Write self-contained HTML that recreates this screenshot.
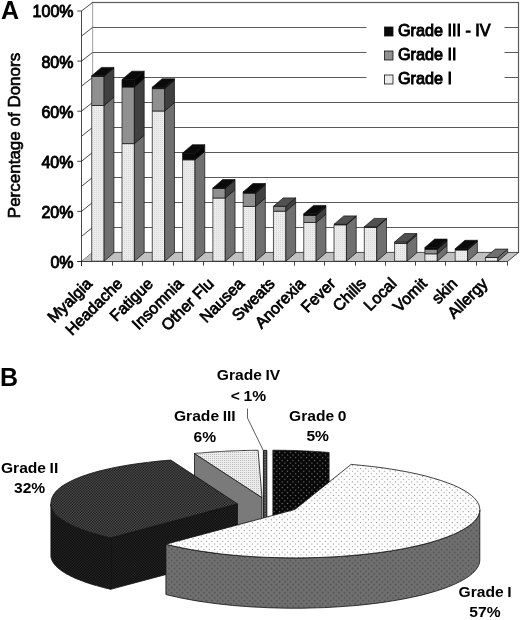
<!DOCTYPE html>
<html><head><meta charset="utf-8"><title>Figure</title>
<style>html,body{margin:0;padding:0;background:#fff}body{width:520px;height:620px;overflow:hidden}svg text{font-family:"Liberation Sans",sans-serif}</style></head>
<body>
<svg width="520" height="620" viewBox="0 0 520 620" style="display:block" >
<defs>
<pattern id="pG1" width="2" height="2" patternUnits="userSpaceOnUse"><rect width="2" height="2" fill="#ececec"/><rect width="1" height="1" fill="#d8d8d8"/></pattern>
<pattern id="pI" width="5.4" height="5.4" patternUnits="userSpaceOnUse"><rect width="5.4" height="5.4" fill="#ffffff"/><rect x="0.8" y="0.8" width="1.1" height="1.1" fill="#8c8c8c"/><rect x="3.5" y="3.5" width="1.1" height="1.1" fill="#8c8c8c"/></pattern>
<pattern id="pIs" width="5.4" height="5.4" patternUnits="userSpaceOnUse"><rect width="5.4" height="5.4" fill="#707070"/><rect x="0.7" y="0.7" width="1.5" height="1.5" fill="#4c4c4c"/><rect x="3.4" y="3.4" width="1.5" height="1.5" fill="#4c4c4c"/></pattern>
<pattern id="pII" width="2.7" height="2.7" patternUnits="userSpaceOnUse"><rect width="2.7" height="2.7" fill="#5e5e5e"/><rect width="1.35" height="1.35" fill="#0c0c0c"/><rect x="1.35" y="1.35" width="1.35" height="1.35" fill="#0c0c0c"/></pattern>
<pattern id="pIIs" width="2.7" height="2.7" patternUnits="userSpaceOnUse"><rect width="2.7" height="2.7" fill="#2a2a2a"/><rect width="1.35" height="1.35" fill="#060606"/><rect x="1.35" y="1.35" width="1.35" height="1.35" fill="#060606"/></pattern>
<pattern id="pIII" width="2" height="2" patternUnits="userSpaceOnUse"><rect width="2" height="2" fill="#ededed"/><rect width="1" height="1" fill="#bdbdbd"/></pattern>
<pattern id="pIV" width="2.7" height="2.7" patternUnits="userSpaceOnUse"><rect width="2.7" height="2.7" fill="#3a3a3a"/><rect width="1.2" height="1.2" fill="#9a9a9a"/></pattern>
<pattern id="p0" width="5.4" height="5.4" patternUnits="userSpaceOnUse"><rect width="5.4" height="5.4" fill="#060606"/><rect x="0.8" y="0.8" width="1.2" height="1.2" fill="#7a7a7a"/><rect x="3.5" y="3.5" width="1.2" height="1.2" fill="#7a7a7a"/></pattern>
</defs>
<rect width="520" height="620" fill="#fff"/>
<rect x="92.5" y="2.5" width="426.0" height="250.0" fill="#fff" stroke="#5a5a5a" stroke-width="1.2"/>
<line x1="92.5" y1="227.5" x2="518.5" y2="227.5" stroke="#5a5a5a" stroke-width="1.2"/>
<line x1="92.5" y1="202.5" x2="518.5" y2="202.5" stroke="#5a5a5a" stroke-width="1.2"/>
<line x1="92.5" y1="177.5" x2="518.5" y2="177.5" stroke="#5a5a5a" stroke-width="1.2"/>
<line x1="92.5" y1="152.5" x2="518.5" y2="152.5" stroke="#5a5a5a" stroke-width="1.2"/>
<line x1="92.5" y1="127.5" x2="518.5" y2="127.5" stroke="#5a5a5a" stroke-width="1.2"/>
<line x1="92.5" y1="102.5" x2="518.5" y2="102.5" stroke="#5a5a5a" stroke-width="1.2"/>
<line x1="92.5" y1="77.5" x2="518.5" y2="77.5" stroke="#5a5a5a" stroke-width="1.2"/>
<line x1="92.5" y1="52.5" x2="518.5" y2="52.5" stroke="#5a5a5a" stroke-width="1.2"/>
<line x1="92.5" y1="27.5" x2="518.5" y2="27.5" stroke="#5a5a5a" stroke-width="1.2"/>
<rect x="366.5" y="14" width="138" height="80" fill="#fff"/>
<polygon points="81.5,11.0 92.5,2.5 92.5,252.5 81.5,261.5" fill="#fff" stroke="none"/>
<line x1="81.5" y1="11.0" x2="81.5" y2="266.0" stroke="#1a1a1a" stroke-width="0.8"/>
<line x1="81.5" y1="261.5" x2="92.5" y2="252.5" stroke="#1a1a1a" stroke-width="0.8"/>
<line x1="81.5" y1="236.45" x2="92.5" y2="227.5" stroke="#1a1a1a" stroke-width="0.8"/>
<line x1="81.5" y1="211.4" x2="92.5" y2="202.5" stroke="#1a1a1a" stroke-width="0.8"/>
<line x1="81.5" y1="186.35" x2="92.5" y2="177.5" stroke="#1a1a1a" stroke-width="0.8"/>
<line x1="81.5" y1="161.3" x2="92.5" y2="152.5" stroke="#1a1a1a" stroke-width="0.8"/>
<line x1="81.5" y1="136.25" x2="92.5" y2="127.5" stroke="#1a1a1a" stroke-width="0.8"/>
<line x1="81.5" y1="111.19999999999999" x2="92.5" y2="102.5" stroke="#1a1a1a" stroke-width="0.8"/>
<line x1="81.5" y1="86.15" x2="92.5" y2="77.5" stroke="#1a1a1a" stroke-width="0.8"/>
<line x1="81.5" y1="61.099999999999994" x2="92.5" y2="52.5" stroke="#1a1a1a" stroke-width="0.8"/>
<line x1="81.5" y1="36.04999999999998" x2="92.5" y2="27.5" stroke="#1a1a1a" stroke-width="0.8"/>
<line x1="81.5" y1="11.0" x2="92.5" y2="2.5" stroke="#1a1a1a" stroke-width="0.8"/>
<polygon points="81.5,261.5 507.5,261.5 518.5,252.5 92.5,252.5" fill="#c0c0c0" stroke="none"/>
<line x1="92.5" y1="252.5" x2="518.5" y2="252.5" stroke="#5a5a5a" stroke-width="1.2"/>
<line x1="507.5" y1="261.5" x2="518.5" y2="252.5" stroke="#1a1a1a" stroke-width="0.8"/>
<line x1="77.3" y1="261.5" x2="507.5" y2="261.5" stroke="#1a1a1a" stroke-width="0.8"/>
<line x1="77.3" y1="261.5" x2="81.5" y2="261.5" stroke="#1a1a1a" stroke-width="0.8"/>
<text x="73.5" y="267.9" font-size="16" text-anchor="end" fill="#000" stroke="#000" stroke-width="0.9">0%</text>
<line x1="77.3" y1="211.4" x2="81.5" y2="211.4" stroke="#1a1a1a" stroke-width="0.8"/>
<text x="73.5" y="217.8" font-size="16" text-anchor="end" fill="#000" stroke="#000" stroke-width="0.9">20%</text>
<line x1="77.3" y1="161.3" x2="81.5" y2="161.3" stroke="#1a1a1a" stroke-width="0.8"/>
<text x="73.5" y="167.7" font-size="16" text-anchor="end" fill="#000" stroke="#000" stroke-width="0.9">40%</text>
<line x1="77.3" y1="111.19999999999999" x2="81.5" y2="111.19999999999999" stroke="#1a1a1a" stroke-width="0.8"/>
<text x="73.5" y="117.6" font-size="16" text-anchor="end" fill="#000" stroke="#000" stroke-width="0.9">60%</text>
<line x1="77.3" y1="61.099999999999994" x2="81.5" y2="61.099999999999994" stroke="#1a1a1a" stroke-width="0.8"/>
<text x="73.5" y="67.5" font-size="16" text-anchor="end" fill="#000" stroke="#000" stroke-width="0.9">80%</text>
<line x1="77.3" y1="11.0" x2="81.5" y2="11.0" stroke="#1a1a1a" stroke-width="0.8"/>
<text x="73.5" y="17.4" font-size="16" text-anchor="end" fill="#000" stroke="#000" stroke-width="0.9">100%</text>
<line x1="81.5" y1="261.5" x2="81.5" y2="265.7" stroke="#1a1a1a" stroke-width="0.8"/>
<line x1="112.5" y1="261.5" x2="112.5" y2="265.7" stroke="#1a1a1a" stroke-width="0.8"/>
<line x1="142.5" y1="261.5" x2="142.5" y2="265.7" stroke="#1a1a1a" stroke-width="0.8"/>
<line x1="173.5" y1="261.5" x2="173.5" y2="265.7" stroke="#1a1a1a" stroke-width="0.8"/>
<line x1="203.5" y1="261.5" x2="203.5" y2="265.7" stroke="#1a1a1a" stroke-width="0.8"/>
<line x1="233.5" y1="261.5" x2="233.5" y2="265.7" stroke="#1a1a1a" stroke-width="0.8"/>
<line x1="263.5" y1="261.5" x2="263.5" y2="265.7" stroke="#1a1a1a" stroke-width="0.8"/>
<line x1="294.5" y1="261.5" x2="294.5" y2="265.7" stroke="#1a1a1a" stroke-width="0.8"/>
<line x1="324.5" y1="261.5" x2="324.5" y2="265.7" stroke="#1a1a1a" stroke-width="0.8"/>
<line x1="355.5" y1="261.5" x2="355.5" y2="265.7" stroke="#1a1a1a" stroke-width="0.8"/>
<line x1="385.5" y1="261.5" x2="385.5" y2="265.7" stroke="#1a1a1a" stroke-width="0.8"/>
<line x1="415.5" y1="261.5" x2="415.5" y2="265.7" stroke="#1a1a1a" stroke-width="0.8"/>
<line x1="445.5" y1="261.5" x2="445.5" y2="265.7" stroke="#1a1a1a" stroke-width="0.8"/>
<line x1="476.5" y1="261.5" x2="476.5" y2="265.7" stroke="#1a1a1a" stroke-width="0.8"/>
<line x1="507.5" y1="261.5" x2="507.5" y2="265.7" stroke="#1a1a1a" stroke-width="0.8"/>
<polygon points="91.7,261.2 104.10000000000001,261.2 104.10000000000001,105.5 91.7,105.5" fill="url(#pG1)" stroke="#111" stroke-width="0.7"/>
<polygon points="104.10000000000001,261.2 113.9,252.79999999999998 113.9,97.1 104.10000000000001,105.5" fill="#707070" stroke="#111" stroke-width="0.7"/>
<polygon points="91.7,105.5 104.10000000000001,105.5 104.10000000000001,76.3 91.7,76.3" fill="#909090" stroke="#111" stroke-width="0.7"/>
<polygon points="104.10000000000001,105.5 113.9,97.1 113.9,67.89999999999999 104.10000000000001,76.3" fill="#404040" stroke="#111" stroke-width="0.7"/>
<polygon points="91.7,76.3 104.10000000000001,76.3 104.10000000000001,75.8 91.7,75.8" fill="#0a0a0a" stroke="#111" stroke-width="0.7"/>
<polygon points="104.10000000000001,76.3 113.9,67.89999999999999 113.9,67.39999999999999 104.10000000000001,75.8" fill="#050505" stroke="#111" stroke-width="0.7"/>
<polygon points="91.7,75.8 104.10000000000001,75.8 113.9,67.39999999999999 101.5,67.39999999999999" fill="#0a0a0a" stroke="#111" stroke-width="0.7"/>
<text transform="translate(93.1,284.6) rotate(-45)" font-size="16" text-anchor="end" fill="#000" stroke="#000" stroke-width="0.75">Myalgia</text>
<polygon points="121.99000000000001,261.2 134.39000000000001,261.2 134.39000000000001,143.6 121.99000000000001,143.6" fill="url(#pG1)" stroke="#111" stroke-width="0.7"/>
<polygon points="134.39000000000001,261.2 144.19000000000003,252.79999999999998 144.19000000000003,135.2 134.39000000000001,143.6" fill="#707070" stroke="#111" stroke-width="0.7"/>
<polygon points="121.99000000000001,143.6 134.39000000000001,143.6 134.39000000000001,87.0 121.99000000000001,87.0" fill="#909090" stroke="#111" stroke-width="0.7"/>
<polygon points="134.39000000000001,143.6 144.19000000000003,135.2 144.19000000000003,78.6 134.39000000000001,87.0" fill="#404040" stroke="#111" stroke-width="0.7"/>
<polygon points="121.99000000000001,87.0 134.39000000000001,87.0 134.39000000000001,79.6 121.99000000000001,79.6" fill="#0a0a0a" stroke="#111" stroke-width="0.7"/>
<polygon points="134.39000000000001,87.0 144.19000000000003,78.6 144.19000000000003,71.19999999999999 134.39000000000001,79.6" fill="#050505" stroke="#111" stroke-width="0.7"/>
<polygon points="121.99000000000001,79.6 134.39000000000001,79.6 144.19000000000003,71.19999999999999 131.79000000000002,71.19999999999999" fill="#0a0a0a" stroke="#111" stroke-width="0.7"/>
<text transform="translate(123.5,284.6) rotate(-45)" font-size="16" text-anchor="end" fill="#000" stroke="#000" stroke-width="0.75">Headache</text>
<polygon points="152.28,261.2 164.68,261.2 164.68,111.0 152.28,111.0" fill="url(#pG1)" stroke="#111" stroke-width="0.7"/>
<polygon points="164.68,261.2 174.48000000000002,252.79999999999998 174.48000000000002,102.6 164.68,111.0" fill="#707070" stroke="#111" stroke-width="0.7"/>
<polygon points="152.28,111.0 164.68,111.0 164.68,88.6 152.28,88.6" fill="#909090" stroke="#111" stroke-width="0.7"/>
<polygon points="164.68,111.0 174.48000000000002,102.6 174.48000000000002,80.19999999999999 164.68,88.6" fill="#404040" stroke="#111" stroke-width="0.7"/>
<polygon points="152.28,88.6 164.68,88.6 164.68,87.2 152.28,87.2" fill="#0a0a0a" stroke="#111" stroke-width="0.7"/>
<polygon points="164.68,88.6 174.48000000000002,80.19999999999999 174.48000000000002,78.8 164.68,87.2" fill="#050505" stroke="#111" stroke-width="0.7"/>
<polygon points="152.28,87.2 164.68,87.2 174.48000000000002,78.8 162.08,78.8" fill="#0a0a0a" stroke="#111" stroke-width="0.7"/>
<text transform="translate(154.0,284.6) rotate(-45)" font-size="16" text-anchor="end" fill="#000" stroke="#000" stroke-width="0.75">Fatigue</text>
<polygon points="182.57,261.2 194.97,261.2 194.97,159.8 182.57,159.8" fill="url(#pG1)" stroke="#111" stroke-width="0.7"/>
<polygon points="194.97,261.2 204.77,252.79999999999998 204.77,151.4 194.97,159.8" fill="#707070" stroke="#111" stroke-width="0.7"/>
<polygon points="182.57,159.8 194.97,159.8 194.97,153.1 182.57,153.1" fill="#0a0a0a" stroke="#111" stroke-width="0.7"/>
<polygon points="194.97,159.8 204.77,151.4 204.77,144.7 194.97,153.1" fill="#050505" stroke="#111" stroke-width="0.7"/>
<polygon points="182.57,153.1 194.97,153.1 204.77,144.7 192.37,144.7" fill="#0a0a0a" stroke="#111" stroke-width="0.7"/>
<text transform="translate(184.4,284.6) rotate(-45)" font-size="16" text-anchor="end" fill="#000" stroke="#000" stroke-width="0.75">Insomnia</text>
<polygon points="212.86,261.2 225.26000000000002,261.2 225.26000000000002,198.0 212.86,198.0" fill="url(#pG1)" stroke="#111" stroke-width="0.7"/>
<polygon points="225.26000000000002,261.2 235.06000000000003,252.79999999999998 235.06000000000003,189.6 225.26000000000002,198.0" fill="#707070" stroke="#111" stroke-width="0.7"/>
<polygon points="212.86,198.0 225.26000000000002,198.0 225.26000000000002,188.3 212.86,188.3" fill="#909090" stroke="#111" stroke-width="0.7"/>
<polygon points="225.26000000000002,198.0 235.06000000000003,189.6 235.06000000000003,179.9 225.26000000000002,188.3" fill="#404040" stroke="#111" stroke-width="0.7"/>
<polygon points="212.86,188.3 225.26000000000002,188.3 225.26000000000002,188.0 212.86,188.0" fill="#0a0a0a" stroke="#111" stroke-width="0.7"/>
<polygon points="225.26000000000002,188.3 235.06000000000003,179.9 235.06000000000003,179.6 225.26000000000002,188.0" fill="#050505" stroke="#111" stroke-width="0.7"/>
<polygon points="212.86,188.0 225.26000000000002,188.0 235.06000000000003,179.6 222.66000000000003,179.6" fill="#0a0a0a" stroke="#111" stroke-width="0.7"/>
<text transform="translate(214.8,284.6) rotate(-45)" font-size="16" text-anchor="end" fill="#000" stroke="#000" stroke-width="0.75">Other Flu</text>
<polygon points="243.14999999999998,261.2 255.54999999999998,261.2 255.54999999999998,206.4 243.14999999999998,206.4" fill="url(#pG1)" stroke="#111" stroke-width="0.7"/>
<polygon points="255.54999999999998,261.2 265.34999999999997,252.79999999999998 265.34999999999997,198.0 255.54999999999998,206.4" fill="#707070" stroke="#111" stroke-width="0.7"/>
<polygon points="243.14999999999998,206.4 255.54999999999998,206.4 255.54999999999998,193.2 243.14999999999998,193.2" fill="#909090" stroke="#111" stroke-width="0.7"/>
<polygon points="255.54999999999998,206.4 265.34999999999997,198.0 265.34999999999997,184.79999999999998 255.54999999999998,193.2" fill="#404040" stroke="#111" stroke-width="0.7"/>
<polygon points="243.14999999999998,193.2 255.54999999999998,193.2 255.54999999999998,191.9 243.14999999999998,191.9" fill="#0a0a0a" stroke="#111" stroke-width="0.7"/>
<polygon points="255.54999999999998,193.2 265.34999999999997,184.79999999999998 265.34999999999997,183.5 255.54999999999998,191.9" fill="#050505" stroke="#111" stroke-width="0.7"/>
<polygon points="243.14999999999998,191.9 255.54999999999998,191.9 265.34999999999997,183.5 252.95,183.5" fill="#0a0a0a" stroke="#111" stroke-width="0.7"/>
<text transform="translate(245.3,284.6) rotate(-45)" font-size="16" text-anchor="end" fill="#000" stroke="#000" stroke-width="0.75">Nausea</text>
<polygon points="273.44,261.2 285.84,261.2 285.84,211.2 273.44,211.2" fill="url(#pG1)" stroke="#111" stroke-width="0.7"/>
<polygon points="285.84,261.2 295.64,252.79999999999998 295.64,202.79999999999998 285.84,211.2" fill="#707070" stroke="#111" stroke-width="0.7"/>
<polygon points="273.44,211.2 285.84,211.2 285.84,206.3 273.44,206.3" fill="#909090" stroke="#111" stroke-width="0.7"/>
<polygon points="285.84,211.2 295.64,202.79999999999998 295.64,197.9 285.84,206.3" fill="#404040" stroke="#111" stroke-width="0.7"/>
<polygon points="273.44,206.3 285.84,206.3 295.64,197.9 283.24,197.9" fill="#505050" stroke="#111" stroke-width="0.7"/>
<text transform="translate(275.7,284.6) rotate(-45)" font-size="16" text-anchor="end" fill="#000" stroke="#000" stroke-width="0.75">Sweats</text>
<polygon points="303.73,261.2 316.13,261.2 316.13,222.5 303.73,222.5" fill="url(#pG1)" stroke="#111" stroke-width="0.7"/>
<polygon points="316.13,261.2 325.93,252.79999999999998 325.93,214.1 316.13,222.5" fill="#707070" stroke="#111" stroke-width="0.7"/>
<polygon points="303.73,222.5 316.13,222.5 316.13,215.5 303.73,215.5" fill="#909090" stroke="#111" stroke-width="0.7"/>
<polygon points="316.13,222.5 325.93,214.1 325.93,207.1 316.13,215.5" fill="#404040" stroke="#111" stroke-width="0.7"/>
<polygon points="303.73,215.5 316.13,215.5 316.13,213.8 303.73,213.8" fill="#0a0a0a" stroke="#111" stroke-width="0.7"/>
<polygon points="316.13,215.5 325.93,207.1 325.93,205.4 316.13,213.8" fill="#050505" stroke="#111" stroke-width="0.7"/>
<polygon points="303.73,213.8 316.13,213.8 325.93,205.4 313.53000000000003,205.4" fill="#0a0a0a" stroke="#111" stroke-width="0.7"/>
<text transform="translate(306.1,284.6) rotate(-45)" font-size="16" text-anchor="end" fill="#000" stroke="#000" stroke-width="0.75">Anorexia</text>
<polygon points="334.02,261.2 346.41999999999996,261.2 346.41999999999996,224.8 334.02,224.8" fill="url(#pG1)" stroke="#111" stroke-width="0.7"/>
<polygon points="346.41999999999996,261.2 356.21999999999997,252.79999999999998 356.21999999999997,216.4 346.41999999999996,224.8" fill="#707070" stroke="#111" stroke-width="0.7"/>
<polygon points="334.02,224.8 346.41999999999996,224.8 346.41999999999996,224.3 334.02,224.3" fill="#909090" stroke="#111" stroke-width="0.7"/>
<polygon points="346.41999999999996,224.8 356.21999999999997,216.4 356.21999999999997,215.9 346.41999999999996,224.3" fill="#404040" stroke="#111" stroke-width="0.7"/>
<polygon points="334.02,224.3 346.41999999999996,224.3 356.21999999999997,215.9 343.82,215.9" fill="#505050" stroke="#111" stroke-width="0.7"/>
<text transform="translate(336.5,284.6) rotate(-45)" font-size="16" text-anchor="end" fill="#000" stroke="#000" stroke-width="0.75">Fever</text>
<polygon points="364.31,261.2 376.71,261.2 376.71,227.3 364.31,227.3" fill="url(#pG1)" stroke="#111" stroke-width="0.7"/>
<polygon points="376.71,261.2 386.51,252.79999999999998 386.51,218.9 376.71,227.3" fill="#707070" stroke="#111" stroke-width="0.7"/>
<polygon points="364.31,227.3 376.71,227.3 376.71,226.8 364.31,226.8" fill="#909090" stroke="#111" stroke-width="0.7"/>
<polygon points="376.71,227.3 386.51,218.9 386.51,218.4 376.71,226.8" fill="#404040" stroke="#111" stroke-width="0.7"/>
<polygon points="364.31,226.8 376.71,226.8 386.51,218.4 374.11,218.4" fill="#505050" stroke="#111" stroke-width="0.7"/>
<text transform="translate(367.0,284.6) rotate(-45)" font-size="16" text-anchor="end" fill="#000" stroke="#000" stroke-width="0.75">Chills</text>
<polygon points="394.59999999999997,261.2 406.99999999999994,261.2 406.99999999999994,243.5 394.59999999999997,243.5" fill="url(#pG1)" stroke="#111" stroke-width="0.7"/>
<polygon points="406.99999999999994,261.2 416.79999999999995,252.79999999999998 416.79999999999995,235.1 406.99999999999994,243.5" fill="#707070" stroke="#111" stroke-width="0.7"/>
<polygon points="394.59999999999997,243.5 406.99999999999994,243.5 406.99999999999994,242.0 394.59999999999997,242.0" fill="#909090" stroke="#111" stroke-width="0.7"/>
<polygon points="406.99999999999994,243.5 416.79999999999995,235.1 416.79999999999995,233.6 406.99999999999994,242.0" fill="#404040" stroke="#111" stroke-width="0.7"/>
<polygon points="394.59999999999997,242.0 406.99999999999994,242.0 416.79999999999995,233.6 404.4,233.6" fill="#505050" stroke="#111" stroke-width="0.7"/>
<text transform="translate(397.4,284.6) rotate(-45)" font-size="16" text-anchor="end" fill="#000" stroke="#000" stroke-width="0.75">Local</text>
<polygon points="424.89,261.2 437.28999999999996,261.2 437.28999999999996,253.8 424.89,253.8" fill="url(#pG1)" stroke="#111" stroke-width="0.7"/>
<polygon points="437.28999999999996,261.2 447.09,252.79999999999998 447.09,245.4 437.28999999999996,253.8" fill="#707070" stroke="#111" stroke-width="0.7"/>
<polygon points="424.89,253.8 437.28999999999996,253.8 437.28999999999996,249.3 424.89,249.3" fill="#909090" stroke="#111" stroke-width="0.7"/>
<polygon points="437.28999999999996,253.8 447.09,245.4 447.09,240.9 437.28999999999996,249.3" fill="#404040" stroke="#111" stroke-width="0.7"/>
<polygon points="424.89,249.3 437.28999999999996,249.3 437.28999999999996,247.5 424.89,247.5" fill="#0a0a0a" stroke="#111" stroke-width="0.7"/>
<polygon points="437.28999999999996,249.3 447.09,240.9 447.09,239.1 437.28999999999996,247.5" fill="#050505" stroke="#111" stroke-width="0.7"/>
<polygon points="424.89,247.5 437.28999999999996,247.5 447.09,239.1 434.69,239.1" fill="#0a0a0a" stroke="#111" stroke-width="0.7"/>
<text transform="translate(427.8,284.6) rotate(-45)" font-size="16" text-anchor="end" fill="#000" stroke="#000" stroke-width="0.75">Vomit</text>
<polygon points="455.18,261.2 467.58,261.2 467.58,250.0 455.18,250.0" fill="url(#pG1)" stroke="#111" stroke-width="0.7"/>
<polygon points="467.58,261.2 477.38,252.79999999999998 477.38,241.6 467.58,250.0" fill="#707070" stroke="#111" stroke-width="0.7"/>
<polygon points="455.18,250.0 467.58,250.0 467.58,248.7 455.18,248.7" fill="#0a0a0a" stroke="#111" stroke-width="0.7"/>
<polygon points="467.58,250.0 477.38,241.6 477.38,240.29999999999998 467.58,248.7" fill="#050505" stroke="#111" stroke-width="0.7"/>
<polygon points="455.18,248.7 467.58,248.7 477.38,240.29999999999998 464.98,240.29999999999998" fill="#0a0a0a" stroke="#111" stroke-width="0.7"/>
<text transform="translate(458.3,284.6) rotate(-45)" font-size="16" text-anchor="end" fill="#000" stroke="#000" stroke-width="0.75">skin</text>
<polygon points="485.46999999999997,261.2 497.86999999999995,261.2 497.86999999999995,257.5 485.46999999999997,257.5" fill="url(#pG1)" stroke="#111" stroke-width="0.7"/>
<polygon points="497.86999999999995,261.2 507.66999999999996,252.79999999999998 507.66999999999996,249.1 497.86999999999995,257.5" fill="#707070" stroke="#111" stroke-width="0.7"/>
<polygon points="485.46999999999997,257.5 497.86999999999995,257.5 507.66999999999996,249.1 495.27,249.1" fill="#707070" stroke="#111" stroke-width="0.7"/>
<text transform="translate(488.7,284.6) rotate(-45)" font-size="16" text-anchor="end" fill="#000" stroke="#000" stroke-width="0.75">Allergy</text>
<rect x="384.5" y="27" width="8.5" height="9" fill="#0a0a0a" stroke="#111" stroke-width="0.8"/>
<text x="398" y="36" font-size="16.2" fill="#000" stroke="#000" stroke-width="0.95">Grade III - IV</text>
<rect x="384.5" y="51" width="8.5" height="9" fill="#909090" stroke="#111" stroke-width="0.8"/>
<text x="398" y="60" font-size="16.2" fill="#000" stroke="#000" stroke-width="0.95">Grade II</text>
<rect x="384.5" y="75" width="8.5" height="9" fill="#ececec" stroke="#111" stroke-width="0.8"/>
<text x="398" y="84" font-size="16.2" fill="#000" stroke="#000" stroke-width="0.95">Grade I</text>
<text transform="translate(20,135.5) rotate(-90)" font-size="17" text-anchor="middle" fill="#000" stroke="#000" stroke-width="0.6">Percentage of Donors</text>
<text x="1" y="19" font-size="25" font-weight="bold" fill="#000">A</text>
<text x="0" y="386.3" font-size="25" font-weight="bold" fill="#000">B</text>
<polygon points="262.0,497.6 194.5,453.5 194.5,503.5 262.0,547.6" fill="#7a7a7a" stroke="#111" stroke-width="0.8" stroke-linejoin="round"/>
<polygon points="262.0,497.6 194.5,453.5 195.5,453.4 196.5,453.3 197.5,453.2 198.6,453.1 199.6,453.1 200.6,453.0 201.6,452.9 202.7,452.8 203.7,452.7 204.7,452.6 205.8,452.5 206.8,452.4 207.8,452.4 208.9,452.3 209.9,452.2 211.0,452.1 212.0,452.0 213.0,452.0 214.1,451.9 215.1,451.8 216.2,451.8 217.3,451.7 218.3,451.6 219.4,451.6 220.4,451.5 221.5,451.4 222.5,451.4 223.6,451.3 224.7,451.3 225.7,451.2 226.8,451.1 227.9,451.1 228.9,451.0 230.0,451.0 231.1,450.9 232.2,450.9 233.2,450.9 234.3,450.8 235.4,450.8 236.5,450.7 237.5,450.7 238.6,450.7 239.7,450.6 240.8,450.6 241.8,450.6 242.9,450.5 244.0,450.5 245.1,450.5 246.2,450.5 247.3,450.4 248.3,450.4 249.4,450.4 250.5,450.4 251.6,450.4 252.7,450.3 253.8,450.3 254.9,450.3 255.9,450.3 257.0,450.3 258.1,450.3" fill="url(#pIII)" stroke="#111" stroke-width="0.8" stroke-linejoin="round"/>
<polygon points="263.4,450.4 266.8,450.4 266.8,547.0 263.4,547.0" fill="url(#pIV)" stroke="#0a0a0a" stroke-width="0.9" stroke-linejoin="round"/>
<polygon points="272.9,497.5 272.9,450.2 273.9,450.2 274.8,450.2 275.8,450.2 276.7,450.2 277.7,450.2 278.6,450.2 279.6,450.3 280.5,450.3 281.5,450.3 282.4,450.3 283.4,450.3 284.3,450.3 285.3,450.3 286.2,450.3 287.2,450.4 288.1,450.4 289.1,450.4 290.0,450.4 291.0,450.4 291.9,450.5 292.9,450.5 293.8,450.5 294.8,450.6 295.7,450.6 296.6,450.6 297.6,450.6 298.5,450.7 299.5,450.7 300.4,450.7 301.4,450.8 302.3,450.8 303.2,450.9 304.2,450.9 305.1,450.9 306.1,451.0 307.0,451.0 307.9,451.1 308.9,451.1 309.8,451.2 310.7,451.2 311.7,451.3 312.6,451.3 313.5,451.4 314.5,451.4 315.4,451.5 316.3,451.5 317.2,451.6 318.2,451.7 319.1,451.7 320.0,451.8 320.9,451.8 321.8,451.9 322.8,452.0 323.7,452.0 324.6,452.1 325.5,452.2 326.4,452.2 327.3,452.3 328.2,452.4 329.1,452.5 329.1,502.5 272.9,547.5" fill="url(#p0)" stroke="#111" stroke-width="0.8" stroke-linejoin="round"/>
<polygon points="237.5,503.9 110.7,537.8 110.7,589.3 237.5,555.4" fill="url(#pIIs)" stroke="#111" stroke-width="0.8" stroke-linejoin="round"/>
<polygon points="110.7,537.8 108.8,537.4 107.0,536.9 105.2,536.5 103.4,536.0 101.6,535.6 99.9,535.1 98.1,534.6 96.4,534.1 94.8,533.7 93.1,533.2 91.5,532.7 89.9,532.2 88.4,531.7 86.9,531.2 85.4,530.7 83.9,530.1 82.5,529.6 81.0,529.1 79.7,528.5 78.3,528.0 77.0,527.5 75.7,526.9 74.4,526.4 73.2,525.8 72.0,525.2 70.8,524.7 69.7,524.1 68.6,523.5 67.5,523.0 66.5,522.4 65.5,521.8 64.5,521.2 63.5,520.6 62.6,520.0 61.8,519.4 60.9,518.8 60.1,518.2 59.3,517.6 58.6,517.0 57.9,516.4 57.2,515.8 56.5,515.2 55.9,514.6 55.4,514.0 54.8,513.3 54.3,512.7 53.8,512.1 53.4,511.5 53.0,510.8 52.6,510.2 52.3,509.6 52.0,509.0 51.7,508.3 51.5,507.7 51.3,507.1 51.2,506.4 51.0,505.8 50.9,505.2 50.9,504.5 50.9,503.9 50.9,555.4 50.9,556.0 50.9,556.7 51.0,557.3 51.2,557.9 51.3,558.6 51.5,559.2 51.7,559.8 52.0,560.5 52.3,561.1 52.6,561.7 53.0,562.3 53.4,563.0 53.8,563.6 54.3,564.2 54.8,564.8 55.4,565.5 55.9,566.1 56.5,566.7 57.2,567.3 57.9,567.9 58.6,568.5 59.3,569.1 60.1,569.7 60.9,570.3 61.8,570.9 62.6,571.5 63.5,572.1 64.5,572.7 65.5,573.3 66.5,573.9 67.5,574.5 68.6,575.0 69.7,575.6 70.8,576.2 72.0,576.7 73.2,577.3 74.4,577.9 75.7,578.4 77.0,579.0 78.3,579.5 79.7,580.0 81.0,580.6 82.5,581.1 83.9,581.6 85.4,582.2 86.9,582.7 88.4,583.2 89.9,583.7 91.5,584.2 93.1,584.7 94.8,585.2 96.4,585.6 98.1,586.1 99.9,586.6 101.6,587.1 103.4,587.5 105.2,588.0 107.0,588.4 108.8,588.9 110.7,589.3" fill="url(#pIIs)" stroke="#111" stroke-width="0.8" stroke-linejoin="round"/>
<polygon points="237.5,503.9 110.7,537.8 106.1,536.7 101.6,535.6 97.3,534.4 93.1,533.2 89.2,531.9 85.4,530.7 81.7,529.3 78.3,528.0 75.1,526.6 72.0,525.2 69.1,523.8 66.5,522.4 64.0,520.9 61.8,519.4 59.7,517.9 57.9,516.4 56.2,514.9 54.8,513.3 53.6,511.8 52.6,510.2 51.9,508.6 51.3,507.1 51.0,505.5 50.9,503.9 51.0,501.9 51.3,500.0 51.8,498.3 52.5,496.6 53.4,494.9 54.5,493.2 55.8,491.6 57.3,490.1 59.1,488.5 61.0,487.0 63.1,485.5 65.4,484.1 67.8,482.7 70.5,481.3 73.4,479.9 76.4,478.6 79.6,477.3 83.0,476.0 86.6,474.8 90.3,473.6 94.2,472.4 98.3,471.3 102.6,470.2 107.0,469.2 111.5,468.2 116.2,467.2 121.1,466.3 126.1,465.4 131.2,464.6 136.5,463.8 141.9,463.1 147.4,462.4 153.1,461.7 158.8,461.1 164.7,460.6 170.8,460.1" fill="url(#pII)" stroke="#111" stroke-width="0.8" stroke-linejoin="round"/>
<polygon points="479.8,509.9 479.6,511.8 479.2,513.7 478.4,515.5 477.4,517.4 476.0,519.3 474.5,521.1 472.6,522.9 470.5,524.7 468.1,526.5 465.4,528.2 462.5,530.0 459.3,531.6 455.9,533.3 452.3,534.9 448.4,536.5 444.2,538.1 439.9,539.5 435.3,541.0 430.5,542.4 425.5,543.8 420.3,545.1 415.0,546.3 409.4,547.5 403.7,548.6 397.8,549.7 391.7,550.7 385.5,551.7 379.2,552.6 372.7,553.4 366.1,554.2 359.4,554.9 352.6,555.5 345.7,556.0 338.8,556.5 331.8,556.9 324.7,557.3 317.6,557.5 310.4,557.7 303.2,557.9 296.0,557.9 288.8,557.9 281.7,557.8 274.5,557.6 267.4,557.4 260.3,557.0 253.2,556.7 246.3,556.2 239.3,555.7 232.5,555.1 225.8,554.4 219.2,553.7 212.7,552.9 206.3,552.0 200.0,551.1 193.9,550.1 188.0,549.0 182.2,547.9 176.6,546.7 171.1,545.5 165.9,544.2 165.9,594.5 171.1,595.8 176.6,597.0 182.2,598.2 188.0,599.3 193.9,600.4 200.0,601.4 206.3,602.3 212.7,603.2 219.2,604.0 225.8,604.7 232.5,605.4 239.3,606.0 246.3,606.5 253.2,607.0 260.3,607.3 267.4,607.7 274.5,607.9 281.7,608.1 288.8,608.2 296.0,608.2 303.2,608.2 310.4,608.0 317.6,607.8 324.7,607.6 331.8,607.2 338.8,606.8 345.7,606.3 352.6,605.8 359.4,605.2 366.1,604.5 372.7,603.7 379.2,602.9 385.5,602.0 391.7,601.0 397.8,600.0 403.7,598.9 409.4,597.8 415.0,596.6 420.3,595.4 425.5,594.1 430.5,592.7 435.3,591.3 439.9,589.8 444.2,588.4 448.4,586.8 452.3,585.2 455.9,583.6 459.3,581.9 462.5,580.3 465.4,578.5 468.1,576.8 470.5,575.0 472.6,573.2 474.5,571.4 476.0,569.6 477.4,567.7 478.4,565.8 479.2,564.0 479.6,562.1 479.8,560.2" fill="url(#pIs)" stroke="#111" stroke-width="0.8" stroke-linejoin="round"/>
<polygon points="294.8,509.5 351.1,464.4 361.6,465.4 371.8,466.5 381.8,467.7 391.4,469.2 400.7,470.7 409.6,472.4 418.1,474.2 426.2,476.2 433.8,478.3 440.9,480.5 447.4,482.8 453.4,485.1 458.9,487.6 463.7,490.2 467.9,492.8 471.5,495.5 474.5,498.2 476.8,501.0 478.5,503.8 479.5,506.6 479.8,509.5 479.5,512.4 478.5,515.3 476.9,518.2 474.6,521.0 471.6,523.8 468.0,526.6 463.8,529.2 458.9,531.9 453.5,534.4 447.5,536.8 441.0,539.2 433.9,541.4 426.3,543.6 418.3,545.6 409.8,547.4 400.9,549.2 391.6,550.8 381.9,552.2 372.0,553.5 361.7,554.6 351.2,555.6 340.6,556.4 329.7,557.0 318.8,557.5 307.7,557.8 296.6,557.9 285.5,557.8 274.4,557.6 263.4,557.2 252.5,556.6 241.8,555.9 231.2,555.0 220.9,553.9 210.9,552.6 201.1,551.2 191.7,549.7 182.7,548.0 174.1,546.2 165.9,544.2" fill="url(#pI)" stroke="#111" stroke-width="0.8" stroke-linejoin="round"/>
<polyline points="247.5,408.5 247.5,418 263.2,450.3" fill="none" stroke="#333" stroke-width="0.8"/>
<text transform="translate(248.5,380.2) scale(1.085,1)" font-size="14.4" font-weight="bold" word-spacing="-0.7" text-anchor="middle" fill="#000">Grade IV</text>
<text transform="translate(248.5,400.7) scale(1.085,1)" font-size="14.4" font-weight="bold" word-spacing="-0.7" text-anchor="middle" fill="#000">&lt; 1%</text>
<text transform="translate(204.8,421) scale(1.085,1)" font-size="14.4" font-weight="bold" word-spacing="-0.7" text-anchor="middle" fill="#000">Grade III</text>
<text transform="translate(204.8,441.5) scale(1.085,1)" font-size="14.4" font-weight="bold" word-spacing="-0.7" text-anchor="middle" fill="#000">6%</text>
<text transform="translate(317.7,421.3) scale(1.085,1)" font-size="14.4" font-weight="bold" word-spacing="-0.7" text-anchor="middle" fill="#000">Grade 0</text>
<text transform="translate(317.7,440.8) scale(1.085,1)" font-size="14.4" font-weight="bold" word-spacing="-0.7" text-anchor="middle" fill="#000">5%</text>
<text transform="translate(29.6,472.5) scale(1.085,1)" font-size="14.4" font-weight="bold" word-spacing="-0.7" text-anchor="middle" fill="#000">Grade II</text>
<text transform="translate(29.6,493) scale(1.085,1)" font-size="14.4" font-weight="bold" word-spacing="-0.7" text-anchor="middle" fill="#000">32%</text>
<text transform="translate(485,596.5) scale(1.085,1)" font-size="14.4" font-weight="bold" word-spacing="-0.7" text-anchor="middle" fill="#000">Grade I</text>
<text transform="translate(485,617) scale(1.085,1)" font-size="14.4" font-weight="bold" word-spacing="-0.7" text-anchor="middle" fill="#000">57%</text>
</svg>
</body></html>
